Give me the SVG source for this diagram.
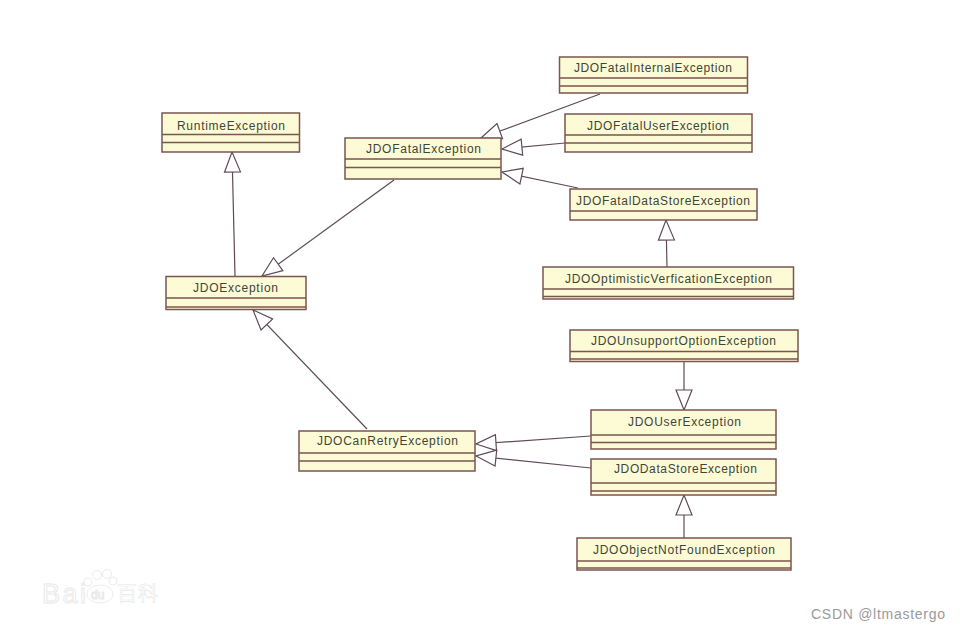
<svg xmlns="http://www.w3.org/2000/svg" width="960" height="633" viewBox="0 0 960 633">
<style>
.box{fill:#fdfad6;stroke:#7a5650;stroke-width:1.5}
.div{stroke:#7a5650;stroke-width:1.5}
.t{font-family:"Liberation Sans",Arial,sans-serif;font-size:12px;fill:#3d4638}
.c{fill:none;stroke:#5f4a58;stroke-width:1.2;marker-end:url(#tri)}
.wm{font-family:"Liberation Sans",Arial,sans-serif;fill:#fff;stroke:#e9e9e9;stroke-width:1}
.wc{font-family:"Noto Sans CJK SC",sans-serif;fill:#fff;stroke:#e9e9e9;stroke-width:.6}
.paw{fill:none;stroke:#ececec;stroke-width:1}
</style>
<defs>
<marker id="tri" markerUnits="userSpaceOnUse" markerWidth="26" markerHeight="22" viewBox="0 0 26 22" refX="22" refY="11" orient="auto">
<path d="M2 3L22 11L2 19Z" fill="#fff" stroke="#5f4a58" stroke-width="1.2"/>
</marker>
</defs>
<rect width="960" height="633" fill="#fff"/>
<g id="connectors">
<line class="c" x1="235" y1="276" x2="232" y2="152"/>
<line class="c" x1="394" y1="180" x2="262" y2="276"/>
<line class="c" x1="367" y1="429" x2="253" y2="310"/>
<line class="c" x1="600" y1="94" x2="481" y2="138"/>
<line class="c" x1="565" y1="143" x2="502" y2="149"/>
<line class="c" x1="578" y1="188" x2="502" y2="172"/>
<line class="c" x1="667" y1="267" x2="666" y2="220"/>
<line class="c" x1="684" y1="361" x2="684" y2="410"/>
<line class="c" x1="591" y1="436" x2="476" y2="444"/>
<line class="c" x1="591" y1="468" x2="476" y2="456"/>
<line class="c" x1="684" y1="538" x2="684" y2="495"/>
</g>
<g id="RuntimeException"><rect class="box" x="162" y="113" width="137.500" height="39"/><path class="div" d="M162 134.500H299.500M162 142.500H299.500"/><text class="t" x="177" y="130" textLength="108">RuntimeException</text></g>
<g id="JDOFatalException"><rect class="box" x="345" y="138" width="156" height="41"/><path class="div" d="M345 159H501M345 167.500H501"/><text class="t" x="366" y="153" textLength="115">JDOFatalException</text></g>
<g id="JDOException"><rect class="box" x="166" y="276.500" width="140" height="33"/><path class="div" d="M166 298H306M166 307H306"/><text class="t" x="193" y="292" textLength="85">JDOException</text></g>
<g id="JDOFatalInternalException"><rect class="box" x="559.500" y="57" width="188" height="36"/><path class="div" d="M559.500 78H747.500M559.500 86H747.500"/><text class="t" x="574" y="72" textLength="158">JDOFatalInternalException</text></g>
<g id="JDOFatalUserException"><rect class="box" x="565" y="114" width="187" height="38"/><path class="div" d="M565 135H752M565 143H752"/><text class="t" x="587" y="130" textLength="142">JDOFatalUserException</text></g>
<g id="JDOFatalDataStoreException"><rect class="box" x="570" y="189" width="187" height="31"/><path class="div" d="M570 211H757"/><text class="t" x="576" y="205" textLength="174">JDOFatalDataStoreException</text></g>
<g id="JDOOptimisticVerficationException"><rect class="box" x="543" y="267" width="250.500" height="32"/><path class="div" d="M543 289H793.500M543 296.500H793.500"/><text class="t" x="565" y="283" textLength="207">JDOOptimisticVerficationException</text></g>
<g id="JDOUnsupportOptionException"><rect class="box" x="570" y="330" width="228" height="31.500"/><path class="div" d="M570 351.500H798M570 359H798"/><text class="t" x="591" y="345" textLength="185">JDOUnsupportOptionException</text></g>
<g id="JDOUserException"><rect class="box" x="591" y="410" width="185" height="39"/><path class="div" d="M591 435H776M591 442.500H776"/><text class="t" x="628" y="426" textLength="113">JDOUserException</text></g>
<g id="JDODataStoreException"><rect class="box" x="591" y="459" width="185" height="36"/><path class="div" d="M591 483H776M591 491H776"/><text class="t" x="614" y="473" textLength="143">JDODataStoreException</text></g>
<g id="JDOObjectNotFoundException"><rect class="box" x="577" y="538" width="214" height="32"/><path class="div" d="M577 561H791M577 568H791"/><text class="t" x="593" y="554" textLength="182">JDOObjectNotFoundException</text></g>
<g id="JDOCanRetryException"><rect class="box" x="299" y="431" width="176" height="40"/><path class="div" d="M299 453H475M299 461H475"/><text class="t" x="317" y="445" textLength="141">JDOCanRetryException</text></g>
<g id="watermark">
<circle class="paw" cx="88" cy="582" r="4"/><circle class="paw" cx="97" cy="575" r="4.500"/><circle class="paw" cx="107" cy="574" r="4.500"/><circle class="paw" cx="113" cy="581" r="4"/>
<ellipse class="paw" cx="100" cy="594" rx="13" ry="9"/>
<text class="wm" x="42" y="603" font-size="27" textLength="44">Bai</text>
<text class="wm" x="91" y="599" font-size="12" stroke-width=".6">du</text>
<text class="wc" x="117" y="601" font-size="20" textLength="41">百科</text>
</g>
<text id="credit" x="811" y="619" font-family="'Liberation Sans',Arial,sans-serif" font-size="14" fill="#9a9a9a" textLength="134">CSDN @ltmastergo</text>
</svg>
